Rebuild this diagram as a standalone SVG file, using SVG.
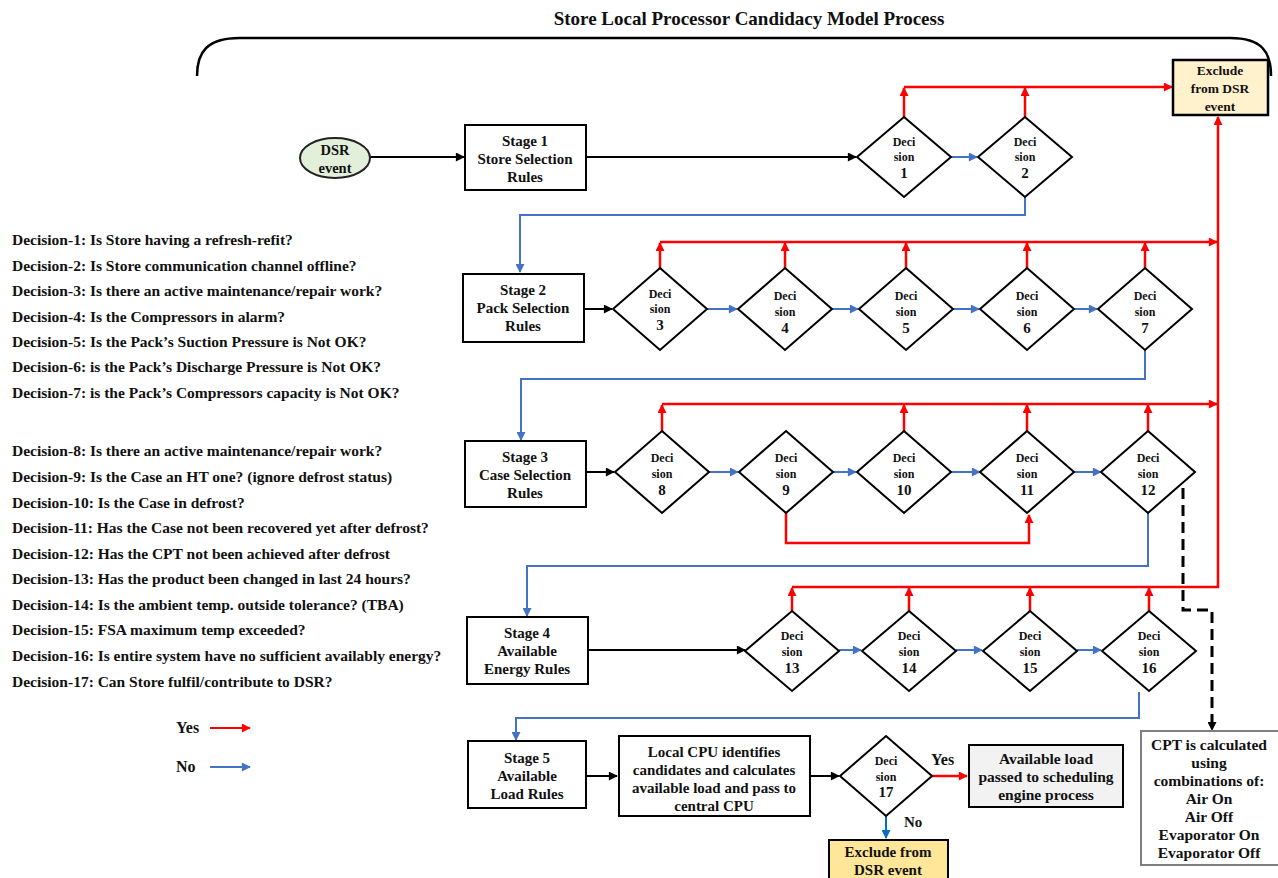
<svg xmlns="http://www.w3.org/2000/svg" width="1278" height="878" viewBox="0 0 1278 878">
<style>
text{font-family:"Liberation Serif","Times New Roman",serif;font-weight:bold;fill:#111;}
.c{text-anchor:middle;}
.t{font-size:15px;}
.l{font-size:15.5px;}
.d{font-size:12px;}
.n{font-size:15px;}
.box{fill:#fff;stroke:#000;stroke-width:2;}
.dia{fill:#fff;stroke:#000;stroke-width:2;}
.red{fill:none;stroke:#FF0000;stroke-width:2.5;}
.blue{fill:none;stroke:#4472C4;stroke-width:2;}
.blk{fill:none;stroke:#000;stroke-width:2;}
</style>
<defs>
<marker id="ar" viewBox="0 0 10 10" refX="9" refY="5" markerWidth="10" markerHeight="9" markerUnits="userSpaceOnUse" orient="auto"><path d="M0,0 L10,5 L0,10 z" fill="#FF0000"/></marker>
<marker id="ab" viewBox="0 0 10 10" refX="9" refY="5" markerWidth="10" markerHeight="9" markerUnits="userSpaceOnUse" orient="auto"><path d="M0,0 L10,5 L0,10 z" fill="#4472C4"/></marker>
<marker id="ak" viewBox="0 0 10 10" refX="9" refY="5" markerWidth="10" markerHeight="9" markerUnits="userSpaceOnUse" orient="auto"><path d="M0,0 L10,5 L0,10 z" fill="#000"/></marker>
<marker id="ab2" viewBox="0 0 10 10" refX="9" refY="5" markerWidth="10" markerHeight="9" markerUnits="userSpaceOnUse" orient="auto"><path d="M0,0 L10,5 L0,10 z" fill="#0070C0"/></marker>
</defs>

<text class="c" x="749" y="25" style="font-size:19px">Store Local Processor Candidacy Model Process</text>
<path d="M197,76 C197,52 207,38 240,38 L1230,38 C1262,38 1271,52 1271,76" fill="none" stroke="#000" stroke-width="2.5"/>

<g id="legend-text">
<text class="l" x="12" y="245">Decision-1: Is Store having a refresh-refit?</text>
<text class="l" x="12" y="271">Decision-2: Is Store communication channel offline?</text>
<text class="l" x="12" y="296">Decision-3: Is there an active maintenance/repair work?</text>
<text class="l" x="12" y="322">Decision-4: Is the Compressors in alarm?</text>
<text class="l" x="12" y="347">Decision-5: Is the Pack’s Suction Pressure is Not OK?</text>
<text class="l" x="12" y="372">Decision-6: is the Pack’s Discharge Pressure is Not OK?</text>
<text class="l" x="12" y="398">Decision-7: is the Pack’s Compressors capacity is Not OK?</text>
<text class="l" x="12" y="456">Decision-8: Is there an active maintenance/repair work?</text>
<text class="l" x="12" y="482">Decision-9: Is the Case an HT one? (ignore defrost status)</text>
<text class="l" x="12" y="508">Decision-10: Is the Case in defrost?</text>
<text class="l" x="12" y="533">Decision-11: Has the Case not been recovered yet after defrost?</text>
<text class="l" x="12" y="559">Decision-12: Has the CPT not been achieved after defrost</text>
<text class="l" x="12" y="584">Decision-13: Has the product been changed in last 24 hours?</text>
<text class="l" x="12" y="610">Decision-14: Is the ambient temp. outside tolerance? (TBA)</text>
<text class="l" x="12" y="635">Decision-15: FSA maximum temp exceeded?</text>
<text class="l" x="12" y="661">Decision-16: Is entire system have no sufficient availably energy?</text>
<text class="l" x="12" y="687">Decision-17: Can Store fulfil/contribute to DSR?</text>
</g>

<g id="key">
<text x="176" y="733" style="font-size:16px">Yes</text>
<line x1="210" y1="728" x2="250" y2="728" stroke="#FF0000" stroke-width="2" marker-end="url(#ar)"/>
<text x="176" y="772" style="font-size:16px">No</text>
<line x1="210" y1="767" x2="250" y2="767" stroke="#4472C4" stroke-width="2" marker-end="url(#ab)"/>
</g>

<g id="connectors">
<line class="blk" x1="370" y1="157" x2="464" y2="157" marker-end="url(#ak)"/>
<line class="blk" x1="586" y1="157" x2="856" y2="157" marker-end="url(#ak)"/>
<line class="blue" x1="951" y1="157" x2="977" y2="157" marker-end="url(#ab)"/>
<line class="red" x1="904" y1="117" x2="904" y2="88" marker-end="url(#ar)"/>
<line class="red" x1="1025" y1="117" x2="1025" y2="88" marker-end="url(#ar)"/>
<line class="red" x1="904" y1="87" x2="1172" y2="87" marker-end="url(#ar)"/>
<polyline class="blue" points="1025,197 1025,215 520,215 520,272" marker-end="url(#ab)"/>
<line class="red" x1="1218" y1="588" x2="1218" y2="117" marker-end="url(#ar)"/>
<line class="blk" x1="584" y1="309" x2="612" y2="309" marker-end="url(#ak)"/>
<line class="blue" x1="707" y1="309" x2="737" y2="309" marker-end="url(#ab)"/>
<line class="blue" x1="832" y1="309" x2="858" y2="309" marker-end="url(#ab)"/>
<line class="blue" x1="953" y1="309" x2="979" y2="309" marker-end="url(#ab)"/>
<line class="blue" x1="1074" y1="309" x2="1097" y2="309" marker-end="url(#ab)"/>
<line class="red" x1="660" y1="242" x2="1217" y2="242" marker-end="url(#ar)"/>
<line class="red" x1="660" y1="268" x2="660" y2="243" marker-end="url(#ar)"/>
<line class="red" x1="785" y1="268" x2="785" y2="243" marker-end="url(#ar)"/>
<line class="red" x1="906" y1="268" x2="906" y2="243" marker-end="url(#ar)"/>
<line class="red" x1="1027" y1="268" x2="1027" y2="243" marker-end="url(#ar)"/>
<line class="red" x1="1145" y1="268" x2="1145" y2="243" marker-end="url(#ar)"/>
<polyline class="blue" points="1145,350 1145,379 521,379 521,440" marker-end="url(#ab)"/>
<line class="blk" x1="586" y1="472" x2="614" y2="472" marker-end="url(#ak)"/>
<line class="blue" x1="709" y1="472" x2="738" y2="472" marker-end="url(#ab)"/>
<line class="blue" x1="833" y1="472" x2="856" y2="472" marker-end="url(#ab)"/>
<line class="blue" x1="951" y1="472" x2="980" y2="472" marker-end="url(#ab)"/>
<line class="blue" x1="1074" y1="472" x2="1101" y2="472" marker-end="url(#ab)"/>
<line class="red" x1="662" y1="404" x2="1217" y2="404" marker-end="url(#ar)"/>
<line class="red" x1="662" y1="431" x2="662" y2="405" marker-end="url(#ar)"/>
<line class="red" x1="904" y1="431" x2="904" y2="405" marker-end="url(#ar)"/>
<line class="red" x1="1027" y1="431" x2="1027" y2="405" marker-end="url(#ar)"/>
<line class="red" x1="1148" y1="431" x2="1148" y2="405" marker-end="url(#ar)"/>
<polyline class="red" points="786,513 786,543 1029,543 1029,515" marker-end="url(#ar)"/>
<polyline class="blue" points="1148,513 1148,566 527,566 527,616" marker-end="url(#ab)"/>
<polyline points="1183,488 1183,610 1212,610 1212,730" fill="none" stroke="#000" stroke-width="3" stroke-dasharray="11,6" marker-end="url(#ak)"/>
<line class="blk" x1="588" y1="650" x2="745" y2="650" marker-end="url(#ak)"/>
<line class="blue" x1="839" y1="650" x2="861" y2="650" marker-end="url(#ab)"/>
<line class="blue" x1="956" y1="650" x2="982" y2="650" marker-end="url(#ab)"/>
<line class="blue" x1="1077" y1="650" x2="1101" y2="650" marker-end="url(#ab)"/>
<line class="red" x1="792" y1="587" x2="1219" y2="587"/>
<line class="red" x1="792" y1="611" x2="792" y2="588" marker-end="url(#ar)"/>
<line class="red" x1="909" y1="611" x2="909" y2="588" marker-end="url(#ar)"/>
<line class="red" x1="1030" y1="611" x2="1030" y2="588" marker-end="url(#ar)"/>
<line class="red" x1="1149" y1="611" x2="1149" y2="588" marker-end="url(#ar)"/>
<polyline class="blue" points="1139,692 1139,718 516,718 516,740" marker-end="url(#ab)"/>
<line class="blk" x1="586" y1="776" x2="617" y2="776" marker-end="url(#ak)"/>
<line class="blk" x1="810" y1="776" x2="839" y2="776" marker-end="url(#ak)"/>
<line x1="932" y1="776" x2="967" y2="776" stroke="#FF0000" stroke-width="2.5" marker-end="url(#ar)"/>
<line x1="886" y1="816" x2="886" y2="838" stroke="#0070C0" stroke-width="2" marker-end="url(#ab2)"/>
<text x="931" y="765" style="font-size:16px">Yes</text>
<text x="904" y="827" style="font-size:15px">No</text>
</g>

<g id="exclude-top">
<rect x="1173" y="60" width="95" height="55" fill="#FFF2CC" stroke="#000" stroke-width="2.5"/>
<text class="c" x="1220" y="75" style="font-size:13.5px">Exclude</text>
<text class="c" x="1220" y="93" style="font-size:13.5px">from DSR</text>
<text class="c" x="1220" y="111" style="font-size:13.5px">event</text>
</g>

<g id="dsr-event">
<ellipse cx="335" cy="158" rx="35" ry="20" fill="#E2EFDA" stroke="#222" stroke-width="2"/>
<text class="c" x="335" y="155" style="font-size:14.5px">DSR</text>
<text class="c" x="335" y="173" style="font-size:14.5px">event</text>
</g>

<g id="stage1">
<rect class="box" x="465" y="125" width="121" height="65"/>
<text class="c t" x="525" y="146">Stage 1</text>
<text class="c t" x="525" y="164">Store Selection</text>
<text class="c t" x="525" y="182">Rules</text>
</g>
<g id="stage2">
<rect class="box" x="463" y="274" width="121" height="68"/>
<text class="c t" x="523" y="295">Stage 2</text>
<text class="c t" x="523" y="313">Pack Selection</text>
<text class="c t" x="523" y="331">Rules</text>
</g>
<g id="stage3">
<rect class="box" x="465" y="441" width="121" height="66"/>
<text class="c t" x="525" y="462">Stage 3</text>
<text class="c t" x="525" y="480">Case Selection</text>
<text class="c t" x="525" y="498">Rules</text>
</g>
<g id="stage4">
<rect class="box" x="467" y="617" width="121" height="67"/>
<text class="c t" x="527" y="638">Stage 4</text>
<text class="c t" x="527" y="656">Available</text>
<text class="c t" x="527" y="674">Energy Rules</text>
</g>
<g id="stage5">
<rect class="box" x="468" y="741" width="118" height="67"/>
<text class="c t" x="527" y="763">Stage 5</text>
<text class="c t" x="527" y="781">Available</text>
<text class="c t" x="527" y="799">Load Rules</text>
</g>
<g id="local-cpu">
<rect class="box" x="619" y="736" width="191" height="80"/>
<text class="c t" x="714" y="757">Local CPU identifies</text>
<text class="c t" x="714" y="775">candidates and calculates</text>
<text class="c t" x="714" y="793">available load and pass to</text>
<text class="c t" x="714" y="811">central CPU</text>
</g>
<g id="available-load">
<rect x="969" y="745" width="154" height="62" fill="#F2F2F2" stroke="#000" stroke-width="2"/>
<text class="c" x="1046" y="764" style="font-size:15.5px">Available load</text>
<text class="c" x="1046" y="782" style="font-size:15.5px">passed to scheduling</text>
<text class="c" x="1046" y="800" style="font-size:15.5px">engine process</text>
</g>
<g id="exclude-bottom">
<rect x="829" y="840" width="119" height="40" fill="#FFE699" stroke="#000" stroke-width="2"/>
<text class="c t" x="888" y="857">Exclude from</text>
<text class="c t" x="888" y="875">DSR event</text>
</g>
<g id="cpt">
<rect x="1141" y="731" width="140" height="134" fill="#fff" stroke="#7F7F7F" stroke-width="2"/>
<text class="c" x="1209" y="750" style="font-size:15.5px">CPT is calculated</text>
<text class="c" x="1209" y="768" style="font-size:15.5px">using</text>
<text class="c" x="1209" y="786" style="font-size:15.5px">combinations of:</text>
<text class="c" x="1209" y="804" style="font-size:15.5px">Air On</text>
<text class="c" x="1209" y="822" style="font-size:15.5px">Air Off</text>
<text class="c" x="1209" y="840" style="font-size:15.5px">Evaporator On</text>
<text class="c" x="1209" y="858" style="font-size:15.5px">Evaporator Off</text>
</g>

<g id="d1"><polygon class="dia" points="904,117 951,157 904,197 857,157"/><text class="c d" x="904" y="146">Deci</text><text class="c d" x="904" y="161">sion</text><text class="c n" x="904" y="178">1</text></g>
<g id="d2"><polygon class="dia" points="1025,117 1072,157 1025,197 978,157"/><text class="c d" x="1025" y="146">Deci</text><text class="c d" x="1025" y="161">sion</text><text class="c n" x="1025" y="178">2</text></g>

<g id="d3"><polygon class="dia" points="660,268 707,309 660,350 613,309"/><text class="c d" x="660" y="298">Deci</text><text class="c d" x="660" y="313">sion</text><text class="c n" x="660" y="330">3</text></g>
<g id="d4"><polygon class="dia" points="785,268 832,309 785,350 738,309"/><text class="c d" x="785" y="300">Deci</text><text class="c d" x="785" y="316">sion</text><text class="c n" x="785" y="333">4</text></g>
<g id="d5"><polygon class="dia" points="906,268 953,309 906,350 859,309"/><text class="c d" x="906" y="300">Deci</text><text class="c d" x="906" y="316">sion</text><text class="c n" x="906" y="333">5</text></g>
<g id="d6"><polygon class="dia" points="1027,268 1074,309 1027,350 980,309"/><text class="c d" x="1027" y="300">Deci</text><text class="c d" x="1027" y="316">sion</text><text class="c n" x="1027" y="333">6</text></g>
<g id="d7"><polygon class="dia" points="1145,268 1192,309 1145,350 1098,309"/><text class="c d" x="1145" y="300">Deci</text><text class="c d" x="1145" y="316">sion</text><text class="c n" x="1145" y="333">7</text></g>

<g id="d8"><polygon class="dia" points="662,431 709,472 662,513 615,472"/><text class="c d" x="662" y="462">Deci</text><text class="c d" x="662" y="478">sion</text><text class="c n" x="662" y="495">8</text></g>
<g id="d9"><polygon class="dia" points="786,431 833,472 786,513 739,472"/><text class="c d" x="786" y="462">Deci</text><text class="c d" x="786" y="478">sion</text><text class="c n" x="786" y="495">9</text></g>
<g id="d10"><polygon class="dia" points="904,431 951,472 904,513 857,472"/><text class="c d" x="904" y="462">Deci</text><text class="c d" x="904" y="478">sion</text><text class="c n" x="904" y="495">10</text></g>
<g id="d11"><polygon class="dia" points="1027,431 1074,472 1027,513 980,472"/><text class="c d" x="1027" y="462">Deci</text><text class="c d" x="1027" y="478">sion</text><text class="c n" x="1027" y="495">11</text></g>
<g id="d12"><polygon class="dia" points="1148,431 1195,472 1148,513 1101,472"/><text class="c d" x="1148" y="462">Deci</text><text class="c d" x="1148" y="478">sion</text><text class="c n" x="1148" y="495">12</text></g>

<g id="d13"><polygon class="dia" points="792,611 839,651 792,691 745,651"/><text class="c d" x="792" y="640">Deci</text><text class="c d" x="792" y="656">sion</text><text class="c n" x="792" y="673">13</text></g>
<g id="d14"><polygon class="dia" points="909,611 956,651 909,691 862,651"/><text class="c d" x="909" y="640">Deci</text><text class="c d" x="909" y="656">sion</text><text class="c n" x="909" y="673">14</text></g>
<g id="d15"><polygon class="dia" points="1030,611 1077,651 1030,691 983,651"/><text class="c d" x="1030" y="640">Deci</text><text class="c d" x="1030" y="656">sion</text><text class="c n" x="1030" y="673">15</text></g>
<g id="d16"><polygon class="dia" points="1149,611 1196,651 1149,691 1102,651"/><text class="c d" x="1149" y="640">Deci</text><text class="c d" x="1149" y="656">sion</text><text class="c n" x="1149" y="673">16</text></g>

<g id="d17"><polygon class="dia" points="886,736 932,776 886,816 840,776"/><text class="c d" x="886" y="765">Deci</text><text class="c d" x="886" y="781">sion</text><text class="c n" x="886" y="797">17</text></g>
</svg>
